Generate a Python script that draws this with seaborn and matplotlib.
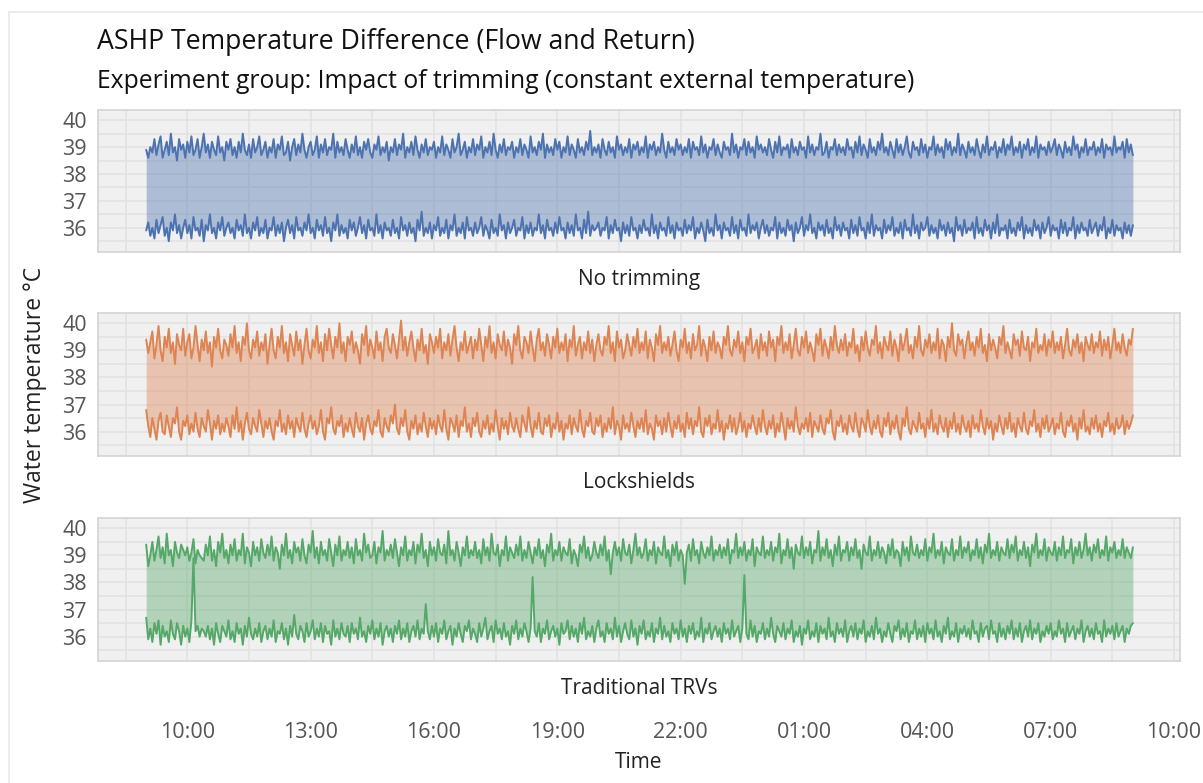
import matplotlib
matplotlib.use("Agg")
import matplotlib.pyplot as plt
from matplotlib.patches import Rectangle
import seaborn as sns
import pandas as pd

# ---------------- data ----------------
panel_names = ["No trimming", "Lockshields", "Traditional TRVs"]
time_start = "2024-01-01 09:00"
time_step = "3min"
tick_labels = ["10:00", "13:00", "16:00", "19:00", "22:00", "01:00", "04:00", "07:00", "10:00"]

flow_no_trimming = [
    38.9, 38.6, 39.0, 38.8, 39.3, 38.7, 39.1, 39.4, 38.6, 38.9, 39.2, 38.7, 39.5, 38.8, 39.0, 38.5, 39.3, 38.9, 39.1, 38.6,
    39.2, 38.8, 39.4, 38.7, 38.9, 39.3, 38.6, 39.0, 39.5, 38.8, 39.1, 38.6, 39.2, 38.9, 38.7, 39.4, 38.8, 39.0, 38.5, 39.2,
    38.9, 39.3, 38.7, 39.0, 38.6, 39.2, 38.8, 39.5, 38.9, 38.7, 39.1, 38.6, 39.3, 38.8, 39.0, 39.4, 38.7, 38.9, 39.2, 38.6,
    39.0, 38.8, 39.3, 38.6, 39.1, 38.9, 39.4, 38.7, 38.8, 39.2, 38.5, 39.0, 39.3, 38.7, 39.1, 38.8, 39.5, 38.9, 38.6, 39.0,
    39.2, 38.7, 38.9, 39.4, 38.6, 39.1, 38.8, 39.3, 38.7, 39.0, 38.9, 39.5, 38.6, 39.2, 38.8, 39.0, 38.7, 39.3, 38.9, 38.6,
    39.1, 38.8, 39.4, 38.7, 39.0, 38.6, 39.2, 38.9, 39.3, 38.8, 38.6, 39.1, 38.9, 39.4, 38.7, 39.0, 38.8, 39.2, 38.5, 39.0,
    38.8, 39.3, 38.7, 39.1, 38.9, 39.5, 38.6, 39.0, 38.8, 39.2, 38.7, 39.4, 38.9, 38.6, 39.1, 38.8, 39.3, 38.7, 39.0, 38.9,
    39.2, 38.6, 39.0, 38.8, 39.4, 38.7, 39.1, 38.9, 38.6, 39.3, 38.8, 39.0, 39.5, 38.7, 38.9, 39.2, 38.6, 39.0, 38.8, 39.3,
    38.7, 39.1, 38.9, 39.4, 38.6, 39.0, 38.8, 39.2, 38.7, 39.5, 38.9, 38.6, 39.1, 38.8, 39.3, 38.7, 39.0, 38.9, 39.2, 38.6,
    39.0, 38.8, 39.3, 38.7, 39.1, 38.9, 38.6, 39.4, 38.8, 39.0, 38.7, 39.2, 38.9, 39.5, 38.6, 39.1, 38.8, 39.0, 38.7, 39.3,
    38.9, 39.2, 38.6, 39.0, 38.8, 39.4, 38.7, 39.1, 38.9, 38.6, 39.3, 38.8, 39.0, 38.7, 39.2, 38.9, 39.6, 38.7, 39.0, 38.8,
    39.1, 38.6, 39.3, 38.9, 38.7, 39.2, 38.8, 39.0, 38.6, 39.4, 38.9, 39.1, 38.7, 39.0, 38.8, 39.3, 38.6, 39.1, 38.9, 39.2,
    38.7, 39.0, 38.8, 39.4, 38.6, 39.1, 38.9, 39.2, 38.7, 39.0, 38.8, 39.5, 38.9, 38.6, 39.2, 38.8, 39.0, 38.7, 39.3, 38.9,
    39.1, 38.7, 39.0, 38.8, 39.3, 38.6, 39.2, 38.9, 39.0, 38.7, 39.4, 38.8, 39.1, 38.6, 39.0, 38.9, 39.3, 38.7, 39.1, 38.8,
    38.6, 39.2, 38.9, 39.0, 38.7, 39.5, 38.8, 39.1, 38.6, 39.0, 38.9, 39.3, 38.7, 39.2, 38.8, 39.0, 38.6, 39.4, 38.9, 39.1,
    38.8, 39.0, 38.7, 39.3, 38.9, 38.6, 39.2, 38.8, 39.4, 38.7, 39.0, 38.9, 39.1, 38.6, 39.3, 38.8, 39.0, 38.7, 39.2, 38.9,
    39.0, 38.6, 39.4, 38.8, 39.1, 38.7, 39.0, 38.9, 39.5, 38.7, 38.8, 39.2, 38.6, 39.0, 38.9, 39.3, 38.7, 39.1, 38.8, 39.0,
    38.7, 39.3, 38.9, 39.0, 38.6, 39.2, 38.8, 39.4, 38.7, 39.1, 38.9, 38.6, 39.3, 38.8, 39.0, 38.7, 39.2, 38.9, 39.5, 38.8,
    39.0, 38.7, 39.2, 38.9, 38.6, 39.3, 38.8, 39.1, 38.7, 39.0, 39.4, 38.8, 38.6, 39.2, 38.9, 39.0, 38.7, 39.3, 38.8, 39.1,
    38.6, 39.0, 38.9, 39.4, 38.7, 39.1, 38.8, 39.0, 38.6, 39.3, 38.9, 39.2, 38.7, 39.0, 38.8, 39.5, 38.7, 39.1, 38.9, 38.6,
    39.2, 38.8, 39.0, 38.7, 39.3, 38.9, 38.6, 39.1, 38.8, 39.4, 38.7, 39.0, 38.9, 39.2, 38.6, 39.0, 38.8, 39.3, 38.7, 39.1,
    38.9, 39.4, 38.7, 39.0, 38.8, 39.2, 38.6, 39.1, 38.9, 39.3, 38.7, 39.0, 38.8, 39.4, 38.6, 39.1, 38.9, 39.0, 38.7, 39.2,
    38.8, 39.0, 39.3, 38.7, 39.1, 38.9, 38.6, 39.2, 38.8, 39.0, 38.7, 39.4, 38.9, 39.1, 38.6, 39.0, 38.8, 39.3, 38.7, 39.0,
    38.9, 39.2, 38.7, 39.0, 38.8, 39.3, 38.6, 39.1, 38.9, 39.0, 38.7, 39.4, 38.8, 39.0, 38.9, 39.2, 38.6, 39.3, 38.8, 39.1,
    38.7,
]
return_no_trimming = [
    35.9, 36.2, 35.7, 36.0, 35.6, 36.3, 35.8, 36.1, 36.4, 35.7, 36.0, 35.5, 36.2, 35.9, 36.5, 35.8, 36.1, 35.6, 36.0, 36.3,
    35.8, 36.1, 35.6, 36.4, 35.9, 36.0, 35.7, 36.3, 35.5, 36.1, 35.9, 36.5, 35.8, 36.0, 35.6, 36.2, 35.9, 36.4, 35.7, 36.0,
    36.2, 35.8, 36.0, 35.6, 36.3, 35.9, 36.1, 35.7, 36.5, 35.8, 36.0, 35.6, 36.2, 35.9, 36.4, 35.7, 36.0, 35.8, 36.3, 35.6,
    36.0, 35.9, 36.4, 35.7, 36.1, 35.8, 36.2, 35.5, 36.0, 36.3, 35.8, 36.1, 35.6, 36.4, 35.9, 36.0, 35.7, 36.2, 35.9, 36.5,
    35.8, 36.0, 35.6, 36.3, 35.9, 36.1, 35.7, 36.4, 35.8, 36.0, 35.5, 36.2, 35.9, 36.5, 35.7, 36.1, 35.8, 36.0, 35.6, 36.3,
    35.9, 36.2, 35.7, 36.0, 36.4, 35.8, 36.1, 35.6, 36.3, 35.9, 36.0, 35.7, 36.5, 35.8, 36.1, 35.6, 36.2, 35.9, 36.0, 35.7,
    36.3, 35.8, 36.0, 35.6, 36.4, 35.9, 36.1, 35.7, 36.2, 35.8, 36.0, 35.5, 36.3, 35.9, 36.6, 35.7, 36.0, 35.8, 36.2, 35.6,
    36.1, 35.9, 36.4, 35.7, 36.0, 35.8, 36.3, 35.6, 36.1, 35.9, 36.5, 35.7, 36.0, 35.8, 36.2, 35.6, 36.4, 35.9, 36.0, 35.7,
    36.2, 35.8, 36.0, 36.4, 35.7, 36.1, 35.9, 35.6, 36.3, 35.8, 36.0, 35.7, 36.5, 35.9, 36.1, 35.6, 36.2, 35.8, 36.0, 36.3,
    35.7, 36.0, 35.9, 36.4, 35.6, 36.1, 35.8, 36.2, 35.7, 36.0, 35.9, 36.5, 35.8, 36.1, 35.6, 36.3, 35.9, 36.0, 35.7, 36.2,
    35.8, 36.4, 35.9, 36.0, 35.6, 36.2, 35.8, 36.1, 35.7, 36.5, 35.9, 36.0, 35.6, 36.3, 35.8, 36.6, 35.7, 36.1, 35.9, 36.0,
    36.2, 35.7, 36.0, 35.9, 36.4, 35.6, 36.1, 35.8, 36.3, 35.9, 36.0, 35.5, 36.2, 35.8, 36.1, 35.7, 36.4, 35.9, 36.0, 35.6,
    36.1, 35.8, 36.3, 35.9, 36.0, 35.7, 36.5, 35.8, 36.1, 35.6, 36.2, 35.9, 36.0, 35.7, 36.4, 35.8, 36.1, 35.6, 36.2, 35.9,
    36.0, 35.7, 36.3, 35.8, 36.1, 35.9, 36.4, 35.6, 36.0, 35.8, 36.2, 35.9, 35.5, 36.3, 35.8, 36.0, 35.7, 36.5, 35.9, 36.1,
    35.6, 36.2, 35.9, 36.0, 35.7, 36.4, 35.8, 36.1, 35.6, 36.3, 35.9, 36.0, 35.7, 36.5, 35.8, 36.1, 35.9, 36.2, 35.6, 36.0,
    36.3, 35.8, 36.1, 35.7, 36.0, 35.9, 36.4, 35.6, 36.2, 35.8, 36.0, 35.7, 36.3, 35.9, 36.1, 35.5, 36.2, 35.8, 36.0, 36.4,
    35.7, 36.1, 35.9, 36.5, 35.8, 36.0, 35.6, 36.2, 35.9, 36.1, 35.7, 36.3, 35.8, 36.0, 35.6, 36.4, 35.9, 36.1, 35.7, 36.2,
    35.9, 36.0, 35.6, 36.3, 35.8, 36.1, 35.7, 36.4, 35.9, 36.0, 35.6, 36.2, 35.8, 36.5, 35.7, 36.1, 35.9, 36.0, 35.6, 36.3,
    35.8, 36.1, 35.9, 36.4, 35.7, 36.0, 35.8, 36.2, 35.6, 36.3, 35.9, 36.0, 35.7, 36.5, 35.8, 36.1, 35.6, 36.2, 35.9, 36.0,
    36.4, 35.7, 36.1, 35.8, 36.0, 35.6, 36.3, 35.9, 36.1, 35.7, 36.2, 35.8, 36.0, 35.5, 36.4, 35.9, 36.1, 35.7, 36.3, 35.8,
    36.0, 35.9, 36.2, 35.6, 36.4, 35.8, 36.0, 35.7, 36.3, 35.9, 36.1, 35.6, 36.2, 35.8, 36.5, 35.7, 36.0, 35.9, 36.1, 35.6,
    36.3, 35.8, 36.0, 35.7, 36.2, 35.9, 36.4, 35.6, 36.1, 35.8, 36.0, 35.7, 36.3, 35.9, 36.1, 35.6, 36.2, 35.8, 36.0, 36.4,
    35.7, 36.1, 35.9, 36.0, 35.6, 36.3, 35.8, 36.2, 35.7, 36.0, 35.9, 36.4, 35.6, 36.1, 35.8, 36.2, 35.9, 36.0, 35.7, 36.3,
    35.8, 36.0, 36.2, 35.7, 36.1, 35.9, 36.4, 35.6, 36.0, 35.8, 36.3, 35.7, 36.1, 35.9, 36.0, 35.6, 36.2, 35.8, 36.1, 35.7,
    36.1,
]
flow_lockshields = [
    39.4, 38.9, 39.3, 39.7, 38.7, 39.2, 39.9, 39.0, 38.6, 39.5, 39.1, 39.8, 38.9, 39.3, 38.5, 39.6, 39.2, 39.0, 39.8, 38.8,
    39.3, 39.6, 38.7, 39.1, 39.9, 39.2, 38.6, 39.4, 39.0, 39.7, 38.9, 39.3, 38.4, 39.5, 39.1, 39.8, 39.0, 38.7, 39.4, 39.2,
    38.8, 39.6, 39.1, 39.9, 38.9, 39.3, 38.6, 39.5, 39.2, 40.0, 39.0, 38.7, 39.4, 39.1, 39.7, 38.8, 39.3, 39.0, 39.6, 38.5,
    39.2, 39.8, 39.0, 38.7, 39.5, 39.1, 39.9, 38.9, 39.3, 38.6, 39.6, 39.2, 38.8, 39.7, 39.0, 39.4, 38.5, 39.2, 39.8, 39.0,
    38.7, 39.4, 39.1, 39.9, 38.9, 39.3, 38.6, 39.6, 39.0, 39.8, 39.2, 38.7, 39.5, 39.1, 40.0, 38.9, 39.3, 38.6, 39.5, 39.2,
    39.7, 38.9, 39.3, 39.0, 38.5, 39.6, 39.2, 39.9, 38.8, 39.4, 39.1, 38.7, 39.7, 39.0, 39.3, 38.6, 39.5, 39.8, 39.1, 38.9,
    39.6, 39.2, 38.7, 39.4, 40.1, 39.0, 39.5, 38.8, 39.3, 39.7, 39.1, 38.6, 39.4, 39.0, 39.8, 38.9, 39.2, 38.5, 39.6, 39.3,
    38.9, 39.5, 39.1, 39.8, 38.7, 39.3, 39.0, 39.6, 38.8, 39.4, 39.9, 39.1, 38.6, 39.3, 39.0, 39.7, 38.9, 39.2, 39.5, 38.7,
    39.4, 39.0, 39.8, 39.2, 38.6, 39.5, 39.1, 39.9, 38.9, 39.3, 38.7, 39.6, 39.2, 39.0, 39.7, 38.8, 39.4, 39.1, 38.5, 39.6,
    39.2, 39.9, 39.0, 38.7, 39.5, 39.3, 38.9, 39.7, 39.1, 38.6, 39.4, 39.8, 39.0, 39.3, 38.8, 39.6, 39.2, 38.7, 39.5, 39.1,
    39.8, 38.9, 39.3, 39.0, 39.6, 38.6, 39.4, 39.1, 39.9, 38.8, 39.2, 39.5, 38.7, 39.3, 39.0, 39.7, 38.9, 39.4, 38.6, 39.2,
    39.6, 39.0, 38.8, 39.5, 39.2, 39.9, 38.9, 39.3, 38.6, 39.7, 39.1, 39.4, 38.7, 39.0, 39.6, 39.2, 38.8, 39.5, 39.1, 39.8,
    38.9, 39.3, 39.0, 39.7, 38.7, 39.4, 39.1, 38.6, 39.6, 39.2, 39.9, 38.9, 39.3, 39.0, 39.5, 38.8, 39.2, 39.7, 39.0, 38.6,
    39.4, 39.1, 39.8, 38.9, 39.3, 38.7, 39.6, 39.0, 39.2, 39.9, 38.8, 39.4, 39.1, 38.6, 39.5, 39.0, 39.7, 38.9, 39.3, 39.1,
    38.7, 39.5, 39.2, 39.9, 39.0, 38.8, 39.4, 39.1, 39.7, 38.9, 39.3, 38.6, 39.5, 39.2, 39.8, 38.9, 39.1, 39.4, 38.7, 39.6,
    39.0, 39.3, 38.8, 39.7, 39.1, 39.4, 38.6, 39.5, 39.2, 39.9, 38.9, 39.3, 39.0, 39.6, 38.7, 39.2, 39.8, 39.0, 38.8, 39.5,
    39.1, 39.7, 38.9, 39.3, 39.0, 38.6, 39.6, 39.2, 39.8, 38.8, 39.4, 39.1, 38.7, 39.5, 39.0, 39.9, 39.2, 38.9, 39.4, 39.0,
    39.6, 38.8, 39.3, 39.1, 39.8, 38.9, 39.2, 38.6, 39.5, 39.0, 39.7, 39.1, 38.8, 39.4, 39.2, 39.9, 38.9, 39.3, 38.7, 39.5,
    39.2, 39.0, 39.7, 38.8, 39.4, 39.1, 38.6, 39.6, 39.0, 39.3, 39.8, 38.9, 39.2, 38.7, 39.5, 39.1, 39.9, 39.0, 38.8, 39.4,
    39.1, 39.6, 38.9, 39.3, 39.0, 39.8, 38.7, 39.4, 39.2, 38.6, 39.5, 39.1, 40.0, 39.0, 38.8, 39.6, 39.2, 39.4, 38.7, 39.3,
    39.7, 39.0, 39.3, 38.8, 39.5, 39.1, 39.8, 38.9, 39.2, 38.6, 39.6, 39.0, 39.4, 39.1, 38.7, 39.5, 39.2, 39.9, 38.9, 39.3,
    39.0, 38.7, 39.6, 39.2, 39.4, 38.8, 39.7, 39.1, 39.0, 39.5, 38.6, 39.3, 39.1, 39.8, 38.9, 39.2, 39.0, 39.6, 38.8, 39.4,
    39.1, 39.7, 38.9, 39.3, 39.0, 39.5, 38.7, 39.2, 39.8, 39.0, 38.8, 39.4, 39.1, 39.6, 38.9, 39.3, 38.6, 39.5, 39.2, 39.0,
    39.6, 38.9, 39.3, 39.1, 39.7, 38.8, 39.4, 39.0, 39.5, 38.7, 39.2, 39.8, 39.0, 39.3, 38.9, 39.6, 39.1, 38.8, 39.4, 39.2,
    39.8,
]
return_lockshields = [
    36.8, 36.2, 35.8, 36.5, 36.1, 35.7, 36.4, 36.7, 36.0, 35.9, 36.6, 36.2, 35.8, 36.5, 36.3, 36.9, 36.0, 35.7, 36.4, 36.2,
    36.6, 35.9, 36.3, 36.0, 36.7, 36.1, 35.8, 36.5, 36.2, 36.0, 36.8, 36.3, 35.7, 36.4, 36.1, 36.6, 35.9, 36.3, 36.0, 36.5,
    36.2, 35.8, 36.6, 36.1, 36.9, 36.0, 36.4, 35.7, 36.3, 36.7, 36.1, 35.9, 36.5, 36.2, 36.0, 36.8, 36.3, 35.8, 36.4, 36.1,
    36.5, 36.0, 35.7, 36.4, 36.2, 36.8, 36.0, 36.3, 35.9, 36.6, 36.1, 36.4, 35.8, 36.5, 36.2, 36.0, 36.7, 36.1, 35.8, 36.3,
    36.6, 36.1, 36.4, 35.9, 36.2, 36.8, 36.0, 35.7, 36.5, 36.3, 36.9, 36.1, 35.9, 36.4, 36.2, 36.6, 35.8, 36.3, 36.0, 36.5,
    36.1, 35.8, 36.7, 36.2, 36.0, 36.5, 35.7, 36.3, 36.6, 36.1, 35.9, 36.4, 36.2, 36.8, 36.0, 35.8, 36.5, 36.2, 36.0, 36.6,
    36.3, 37.0, 36.1, 35.9, 36.5, 36.2, 36.8, 36.0, 35.7, 36.4, 36.1, 36.6, 35.9, 36.3, 36.0, 36.7, 36.2, 35.8, 36.5, 36.1,
    36.4, 35.9, 36.6, 36.2, 36.0, 36.8, 36.1, 35.7, 36.5, 36.3, 36.0, 36.6, 35.8, 36.4, 36.2, 36.9, 36.0, 36.3, 35.8, 36.5,
    36.2, 36.7, 36.0, 35.8, 36.4, 36.1, 36.6, 35.9, 36.3, 36.0, 36.8, 36.2, 35.7, 36.5, 36.1, 36.4, 35.9, 36.7, 36.2, 36.0,
    36.5, 36.1, 35.8, 36.6, 36.3, 36.0, 36.9, 36.2, 35.8, 36.4, 36.1, 36.7, 36.0, 35.9, 36.5, 36.2, 36.6, 35.8, 36.3, 36.1,
    36.7, 36.0, 36.4, 35.7, 36.3, 36.1, 36.6, 35.9, 36.5, 36.2, 36.0, 36.8, 36.1, 35.8, 36.4, 36.2, 36.7, 36.0, 35.9, 36.5,
    36.2, 36.6, 35.8, 36.3, 36.0, 36.5, 36.1, 36.9, 35.9, 36.4, 36.2, 35.7, 36.6, 36.1, 36.3, 36.0, 36.7, 36.2, 35.8, 36.4,
    36.1, 36.5, 36.0, 36.8, 35.9, 36.3, 36.1, 35.7, 36.6, 36.2, 36.4, 35.9, 36.5, 36.0, 36.7, 36.2, 35.8, 36.4, 36.1, 36.6,
    36.0, 36.3, 35.8, 36.7, 36.1, 36.5, 35.9, 36.4, 36.2, 36.9, 36.0, 35.8, 36.5, 36.2, 36.6, 35.9, 36.3, 36.1, 36.8, 36.0,
    36.4, 35.7, 36.3, 36.1, 36.6, 36.0, 36.5, 35.9, 36.2, 36.7, 36.0, 36.4, 35.8, 36.3, 36.1, 36.6, 36.2, 35.9, 36.5, 36.0,
    36.8, 36.2, 35.9, 36.4, 36.1, 36.6, 35.8, 36.3, 36.0, 36.7, 36.2, 35.7, 36.5, 36.1, 36.4, 36.0, 36.9, 36.2, 35.9, 36.3,
    36.1, 36.5, 36.0, 36.7, 35.8, 36.4, 36.2, 36.0, 36.6, 36.1, 35.9, 36.5, 36.3, 36.8, 36.0, 35.7, 36.4, 36.2, 36.6, 36.0,
    36.3, 35.9, 36.6, 36.2, 36.0, 36.7, 36.1, 35.8, 36.5, 36.3, 36.0, 36.8, 36.2, 35.9, 36.4, 36.1, 36.6, 36.0, 35.8, 36.5,
    36.2, 36.7, 35.9, 36.4, 36.1, 36.6, 36.0, 35.7, 36.5, 36.2, 36.9, 36.1, 35.9, 36.4, 36.2, 36.0, 36.7, 36.1, 36.3, 35.8,
    36.5, 36.1, 36.8, 36.0, 36.3, 35.9, 36.6, 36.2, 36.0, 36.5, 35.8, 36.4, 36.1, 36.7, 36.0, 36.3, 35.9, 36.6, 36.2, 36.0,
    36.4, 35.8, 36.6, 36.1, 36.3, 36.0, 36.8, 36.2, 35.9, 36.5, 36.1, 36.4, 35.7, 36.3, 36.0, 36.6, 36.2, 35.9, 36.5, 36.1,
    36.7, 36.0, 36.3, 35.8, 36.5, 36.2, 36.0, 36.7, 36.1, 35.9, 36.4, 36.2, 36.8, 36.0, 36.3, 35.8, 36.5, 36.1, 36.6, 36.0,
    36.2, 36.5, 35.9, 36.3, 36.1, 36.7, 36.0, 35.8, 36.4, 36.2, 36.6, 36.0, 36.3, 35.7, 36.5, 36.1, 36.8, 36.0, 36.2, 35.9,
    36.5, 36.1, 36.6, 36.0, 36.3, 35.8, 36.4, 36.2, 36.7, 36.0, 36.3, 35.9, 36.5, 36.1, 36.2, 36.6, 35.9, 36.4, 36.1, 36.3,
    36.6,
]
flow_trvs = [
    39.4, 38.6, 39.0, 39.5, 38.8, 39.2, 39.7, 38.9, 39.3, 38.7, 39.8, 39.0, 39.2, 38.6, 39.5, 39.1, 38.9, 39.4, 39.2, 39.0,
    39.3, 38.8, 39.1, 39.6, 38.7, 39.2, 39.0, 38.9, 38.8, 39.4, 39.0, 39.7, 38.8, 39.2, 38.6, 39.5, 39.1, 39.8, 38.9, 39.2,
    38.7, 39.4, 39.0, 39.6, 38.8, 39.2, 39.0, 39.8, 38.7, 39.3, 39.1, 38.6, 39.5, 39.0, 39.3, 38.8, 39.6, 39.1, 38.9, 39.4,
    39.0, 39.7, 38.8, 39.3, 39.1, 38.5, 39.4, 39.0, 39.8, 38.9, 39.2, 38.7, 39.5, 39.1, 39.3, 38.8, 39.6, 39.0, 38.7, 39.4,
    39.1, 39.9, 38.9, 39.3, 38.7, 39.5, 39.0, 39.2, 38.8, 39.6, 39.1, 38.6, 39.4, 39.0, 39.7, 38.8, 39.2, 39.0, 39.5, 38.9,
    39.3, 38.7, 39.6, 39.0, 39.2, 38.8, 39.8, 39.1, 39.4, 38.9, 39.0, 39.5, 38.7, 39.3, 39.1, 39.9, 38.8, 39.2, 39.0, 39.4,
    38.9, 39.6, 39.1, 38.6, 39.3, 39.0, 39.7, 38.8, 39.2, 39.0, 39.5, 38.7, 39.4, 39.1, 39.8, 38.9, 39.2, 38.6, 39.5, 39.0,
    39.3, 38.8, 39.6, 39.1, 39.0, 39.4, 38.7, 39.9, 39.0, 39.2, 38.8, 39.5, 39.1, 38.6, 39.3, 39.0, 39.7, 38.9, 39.2, 39.0,
    39.5, 38.9, 39.2, 38.7, 39.6, 39.0, 39.3, 38.8, 39.8, 39.1, 39.0, 39.4, 38.6, 39.2, 39.0, 39.7, 38.8, 39.3, 39.1, 38.9,
    39.4, 39.0, 39.7, 38.8, 39.2, 38.9, 39.5, 39.1, 38.7, 39.3, 39.0, 39.6, 38.9, 39.2, 38.6, 39.4, 39.1, 39.8, 38.8, 39.2,
    39.0, 39.5, 38.8, 39.3, 39.1, 39.0, 39.6, 38.7, 39.2, 39.0, 38.6, 39.4, 39.1, 39.7, 38.9, 39.3, 38.8, 39.0, 39.5, 39.1,
    38.9, 39.4, 39.0, 39.7, 38.8, 39.2, 38.3, 39.1, 39.5, 39.0, 39.3, 38.8, 39.6, 39.1, 39.0, 39.4, 38.7, 39.2, 39.8, 39.0,
    39.3, 38.9, 39.1, 39.6, 38.8, 39.2, 39.0, 39.5, 38.7, 39.3, 39.1, 39.0, 39.7, 38.9, 39.2, 38.6, 39.4, 39.0, 39.5, 38.8,
    39.2, 39.0, 37.95, 39.1, 39.4, 38.8, 39.6, 39.0, 39.2, 38.7, 39.5, 39.1, 38.9, 39.3, 39.0, 39.7, 38.8, 39.2, 39.0, 39.4,
    38.9, 39.3, 39.0, 39.6, 38.7, 39.2, 39.1, 39.8, 38.9, 39.3, 39.0, 39.5, 38.8, 39.2, 39.0, 39.6, 38.6, 39.3, 39.1, 39.0,
    39.7, 38.9, 39.2, 39.0, 39.5, 38.8, 39.3, 39.1, 39.8, 38.7, 39.2, 39.0, 39.6, 38.9, 39.3, 38.5, 39.4, 39.1, 39.0, 39.7,
    38.9, 39.3, 39.0, 39.5, 38.7, 39.2, 39.1, 39.9, 38.8, 39.3, 39.0, 39.6, 38.9, 39.2, 38.6, 39.4, 39.0, 39.7, 38.8, 39.2,
    39.1, 39.5, 38.8, 39.3, 39.0, 39.6, 38.9, 39.2, 38.5, 39.4, 39.1, 39.0, 39.7, 38.8, 39.2, 39.0, 39.5, 38.9, 39.3, 39.1,
    38.7, 39.4, 39.0, 39.6, 38.9, 39.2, 39.1, 38.6, 39.5, 39.0, 39.3, 38.8, 39.7, 39.1, 39.0, 39.4, 38.9, 39.2, 39.0, 39.6,
    38.8, 39.3, 39.1, 39.8, 38.9, 39.2, 39.0, 39.5, 38.7, 39.3, 39.1, 39.0, 39.6, 38.8, 39.2, 39.0, 39.7, 38.9, 39.3, 39.1,
    39.5, 38.8, 39.2, 39.0, 39.6, 38.9, 39.3, 38.7, 39.4, 39.1, 39.8, 38.9, 39.2, 39.0, 39.5, 38.8, 39.3, 39.1, 39.0, 39.6,
    38.9, 39.4, 39.1, 39.7, 38.8, 39.2, 39.0, 39.5, 38.9, 39.3, 38.6, 39.4, 39.1, 39.8, 38.9, 39.2, 39.0, 39.6, 38.8, 39.3,
    39.1, 39.0, 39.5, 38.8, 39.3, 39.0, 39.7, 38.9, 39.2, 39.1, 39.6, 38.7, 39.3, 39.0, 39.5, 38.9, 39.2, 39.8, 39.0, 39.3,
    38.8, 39.4, 39.1, 39.6, 38.9, 39.2, 39.0, 39.7, 38.8, 39.3, 39.1, 39.5, 38.9, 39.2, 39.0, 39.6, 38.9, 39.3, 39.1, 38.9,
    39.3,
]
return_trvs = [
    36.7, 35.9, 36.3, 35.8, 36.5, 36.1, 36.6, 35.7, 36.4, 36.0, 36.2, 35.8, 36.6, 36.1, 35.9, 36.5, 36.2, 35.7, 36.4, 36.0,
    36.3, 35.8, 36.6, 38.9, 36.2, 36.4, 36.0, 36.3, 36.2, 36.0, 36.4, 35.9, 36.3, 35.7, 36.5, 36.1, 35.8, 36.4, 36.2, 36.0,
    36.6, 35.9, 36.2, 35.8, 36.5, 36.1, 36.3, 35.7, 36.4, 36.0, 36.7, 36.1, 35.9, 36.3, 36.0, 36.5, 35.8, 36.2, 36.4, 35.9,
    36.3, 36.0, 36.6, 35.8, 36.2, 36.1, 36.5, 35.9, 36.3, 35.7, 36.4, 36.0, 36.8, 36.1, 35.9, 36.4, 36.2, 35.8, 36.5, 36.0,
    36.2, 36.6, 35.9, 36.3, 36.0, 36.5, 35.8, 36.4, 36.1, 36.2, 35.7, 36.6, 36.0, 36.3, 35.9, 36.5, 36.1, 36.0, 36.4, 35.8,
    36.5, 36.1, 36.3, 35.9, 36.7, 36.0, 36.2, 35.8, 36.4, 36.1, 36.6, 35.9, 36.3, 36.0, 36.5, 35.7, 36.2, 36.4, 36.0, 36.3,
    35.8, 36.4, 36.1, 36.6, 35.9, 36.3, 36.0, 36.5, 35.8, 36.2, 36.4, 36.0, 36.6, 35.9, 36.3, 36.1, 37.2, 36.2, 35.9, 36.4,
    36.0, 36.5, 35.8, 36.3, 36.1, 36.6, 35.9, 36.2, 36.4, 35.7, 36.3, 36.0, 36.5, 36.1, 35.8, 36.4, 36.2, 36.6, 35.9, 36.3,
    36.1, 35.8, 36.5, 36.0, 36.3, 36.7, 35.9, 36.2, 36.4, 35.8, 36.6, 36.1, 36.3, 35.9, 36.5, 36.0, 36.2, 35.7, 36.4, 36.1,
    36.6, 35.9, 36.3, 36.0, 36.5, 36.2, 35.8, 36.3, 38.2, 36.2, 36.0, 36.5, 35.8, 36.3, 36.1, 36.6, 35.9, 36.2, 36.4, 36.0,
    36.3, 35.7, 36.5, 36.1, 36.2, 36.6, 35.9, 36.4, 36.0, 36.3, 35.8, 36.5, 36.1, 36.7, 35.9, 36.2, 36.0, 36.4, 35.8, 36.3,
    36.6, 36.0, 36.2, 35.8, 36.5, 36.1, 36.3, 35.9, 36.7, 36.0, 36.4, 35.8, 36.2, 36.5, 36.1, 35.9, 36.6, 36.0, 36.3, 35.7,
    36.4, 36.1, 36.6, 35.9, 36.2, 36.0, 36.5, 35.8, 36.3, 36.1, 36.7, 35.9, 36.4, 36.0, 36.2, 35.8, 36.5, 36.1, 36.3, 35.9,
    36.6, 36.0, 36.3, 35.8, 36.4, 36.1, 36.5, 35.9, 36.2, 36.0, 36.7, 35.8, 36.3, 36.1, 36.5, 35.9, 36.2, 36.4, 36.0, 36.3,
    35.8, 36.5, 36.1, 36.3, 35.9, 36.6, 36.0, 36.2, 36.4, 35.8, 36.3, 38.27, 36.1, 35.9, 36.6, 36.0, 36.4, 35.8, 36.2, 36.1,
    36.5, 35.9, 36.3, 36.0, 36.7, 36.1, 35.8, 36.4, 36.2, 36.0, 36.5, 35.9, 36.3, 36.1, 36.6, 35.8, 36.2, 36.0, 36.4, 35.7,
    36.3, 36.1, 36.6, 35.9, 36.2, 36.0, 36.5, 35.8, 36.4, 36.1, 36.3, 35.9, 36.7, 36.0, 36.2, 35.8, 36.5, 36.1, 36.3, 36.0,
    36.6, 35.8, 36.2, 36.4, 36.0, 36.5, 35.9, 36.3, 36.1, 36.6, 35.8, 36.2, 36.0, 36.4, 35.9, 36.7, 36.1, 36.3, 35.8, 36.2,
    36.0, 36.5, 36.1, 35.8, 36.4, 36.2, 36.6, 35.9, 36.3, 36.0, 36.5, 35.8, 36.2, 36.1, 36.6, 35.9, 36.3, 36.0, 36.4, 35.8,
    36.5, 36.1, 36.3, 35.9, 36.6, 36.0, 36.2, 35.8, 36.4, 36.1, 36.7, 35.9, 36.2, 36.0, 36.5, 35.8, 36.3, 36.1, 36.4, 36.0,
    36.3, 35.9, 36.6, 36.1, 36.2, 35.8, 36.5, 36.0, 36.3, 36.4, 35.9, 36.6, 36.1, 36.2, 35.8, 36.5, 36.0, 36.3, 35.9, 36.4,
    36.1, 36.6, 35.9, 36.3, 36.0, 36.5, 35.8, 36.2, 36.4, 36.0, 36.6, 35.9, 36.3, 36.1, 36.5, 35.8, 36.2, 36.0, 36.4, 36.1,
    36.5, 35.9, 36.2, 36.0, 36.6, 36.1, 36.3, 35.8, 36.5, 36.0, 36.2, 36.4, 35.9, 36.3, 36.1, 36.6, 35.8, 36.2, 36.4, 36.0,
    36.3, 35.9, 36.5, 36.1, 36.2, 35.8, 36.6, 36.0, 36.3, 36.1, 36.4, 35.9, 36.5, 36.0, 36.2, 36.4, 35.8, 36.3, 36.1, 36.4,
    36.5,
]

flows = [flow_no_trimming, flow_lockshields, flow_trvs]
returns = [return_no_trimming, return_lockshields, return_trvs]

# ---------------- style ----------------
sns.set_theme(style="white")
plt.rcParams["font.family"] = ["Open Sans", "DejaVu Sans"]
colors = sns.color_palette("deep")[:3]

W, H = 1203, 783
fig = plt.figure(figsize=(W / 100, H / 100), dpi=100)
fig.patch.set_facecolor("white")

# outer light frame
fig.patches.append(Rectangle((9 / W, -0.1), 1.2, (H - 12) / H + 0.1, transform=fig.transFigure,
                             fill=False, edgecolor="#ebebeb", linewidth=1.5, zorder=0))

def px_axes(left, top, right, bottom):
    return [left / W, (H - bottom) / H, (right - left) / W, (bottom - top) / H]

panel_boxes = [(98, 110, 1180, 252), (98, 313, 1180, 456), (98, 518, 1180, 661)]
label_y = [279, 483, 689]

x0 = pd.Timestamp("2024-01-01 07:49:40")
x1 = pd.Timestamp("2024-01-02 10:08:45")
major = pd.date_range("2024-01-01 10:00", periods=9, freq="3h")
minor = pd.date_range("2024-01-01 08:30", periods=18, freq="90min")

for i in range(3):
    ax = fig.add_axes(px_axes(*panel_boxes[i]))
    n = len(flows[i])
    times = pd.date_range(time_start, periods=n, freq=time_step)
    df = pd.DataFrame({"time": times, "flow": flows[i], "ret": returns[i]})
    ax.set_facecolor("#f0f0f0")
    ax.fill_between(df["time"], df["ret"], df["flow"], color=colors[i], alpha=0.4, linewidth=0, zorder=2)
    sns.lineplot(data=df, x="time", y="flow", ax=ax, color=colors[i], linewidth=1.4, zorder=3)
    sns.lineplot(data=df, x="time", y="ret", ax=ax, color=colors[i], linewidth=1.4, zorder=3)
    ax.set_xlim(x0, x1)
    ax.set_ylim(35.1, 40.38)
    ax.set_yticks([36, 37, 38, 39, 40])
    ax.set_yticks([35.5, 36.5, 37.5, 38.5, 39.5], minor=True)
    ax.set_xticks(major)
    ax.set_xticks(minor, minor=True)
    ax.grid(True, which="both", color="#e2e2e2", linewidth=1.2, zorder=0)
    ax.set_axisbelow(True)
    for s in ax.spines.values():
        s.set_color("#d4d4d4")
        s.set_linewidth(1.2)
    ax.tick_params(axis="both", which="both", length=0)
    ax.tick_params(axis="y", labelsize=15.5, labelcolor="#555555", pad=8)
    ax.set_xlabel("")
    ax.set_ylabel("")
    if i < 2:
        ax.set_xticklabels([])
    else:
        ax.set_xticklabels(tick_labels)
        ax.tick_params(axis="x", labelsize=15.5, labelcolor="#555555", pad=44)
    fig.text(639 / W, 1 - label_y[i] / H, panel_names[i], ha="center", va="center",
             fontsize=15, color="#222222")

fig.text(97 / W, 1 - 42 / H, "ASHP Temperature Difference (Flow and Return)", ha="left", va="center",
         fontsize=19.2, color="#111111")
fig.text(97 / W, 1 - 81 / H, "Experiment group: Impact of trimming (constant external temperature)",
         ha="left", va="center", fontsize=17.8, color="#111111")
fig.text(639 / W, 1 - 763 / H, "Time", ha="center", va="center", fontsize=15, color="#222222")
fig.text(35 / W, 1 - 385 / H, "Water temperature °C", ha="center", va="center", rotation=90,
         fontsize=16.5, color="#222222")

fig.savefig("out.png", dpi=100)
